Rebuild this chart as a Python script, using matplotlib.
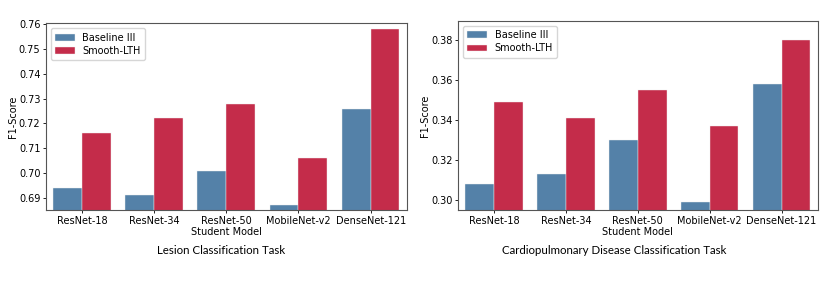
import matplotlib
matplotlib.use("Agg")
import matplotlib.pyplot as plt
import numpy as np

models = ["ResNet-18", "ResNet-34", "ResNet-50", "MobileNet-v2", "DenseNet-121"]
series_names = ["Baseline III", "Smooth-LTH"]
lesion_baseline = [0.694, 0.691, 0.701, 0.687, 0.726]
lesion_smooth = [0.716, 0.722, 0.728, 0.706, 0.758]
cardio_baseline = [0.308, 0.313, 0.330, 0.299, 0.358]
cardio_smooth = [0.349, 0.341, 0.355, 0.337, 0.380]
lesion_yticks = [0.69, 0.70, 0.71, 0.72, 0.73, 0.74, 0.75, 0.76]
cardio_yticks = [0.30, 0.32, 0.34, 0.36, 0.38]
titles = ["Lesion Classification Task", "Cardiopulmonary Disease Classification Task"]

colors = ["#5481a8", "#c42c4a"]
fs = 7

fig = plt.figure(figsize=(8.3, 2.85), dpi=100)
ax1 = fig.add_axes([0.0554, 0.262, 0.4346, 0.656])
ax2 = fig.add_axes([0.552, 0.262, 0.433, 0.665])

def draw(ax, base, smooth, ylim, yticks, fmt):
    x = np.arange(len(models))
    w = 0.4
    ax.bar(x - w/2, base, w, color=colors[0], edgecolor="#f0f0f0", linewidth=0.3, label=series_names[0])
    ax.bar(x + w/2, smooth, w, color=colors[1], edgecolor="#f0f0f0", linewidth=0.3, label=series_names[1])
    ax.set_xlim(-0.5, len(models) - 0.5)
    ax.set_ylim(*ylim)
    ax.set_xticks(x)
    ax.set_xticklabels(models, fontsize=fs)
    ax.set_yticks(yticks)
    ax.set_yticklabels([fmt.format(v) for v in yticks], fontsize=fs)
    ax.set_xlabel("Student Model", fontsize=fs, labelpad=0.5)
    ax.set_ylabel("F1-Score", fontsize=fs, labelpad=0.5)
    ax.tick_params(axis="both", length=2.5, width=0.6, pad=1.5)
    for s in ax.spines.values():
        s.set_color("#555555")
        s.set_linewidth(0.8)
    ax.legend(loc="upper left", fontsize=fs, frameon=True, framealpha=0.8,
              edgecolor="#cccccc", handlelength=2.0, borderpad=0.45, labelspacing=0.35)

draw(ax1, lesion_baseline, lesion_smooth, (0.685, 0.7603), lesion_yticks, "{:.2f}")
draw(ax2, cardio_baseline, cardio_smooth, (0.295, 0.3896), cardio_yticks, "{:.2f}")

fig.text(221 / 830, 1 - 251 / 285, titles[0], ha="center", va="center", fontsize=8.3, family="Lato")
fig.text(614 / 830, 1 - 251 / 285, titles[1], ha="center", va="center", fontsize=8.3, family="Lato")

fig.savefig("out.png", dpi=100)
